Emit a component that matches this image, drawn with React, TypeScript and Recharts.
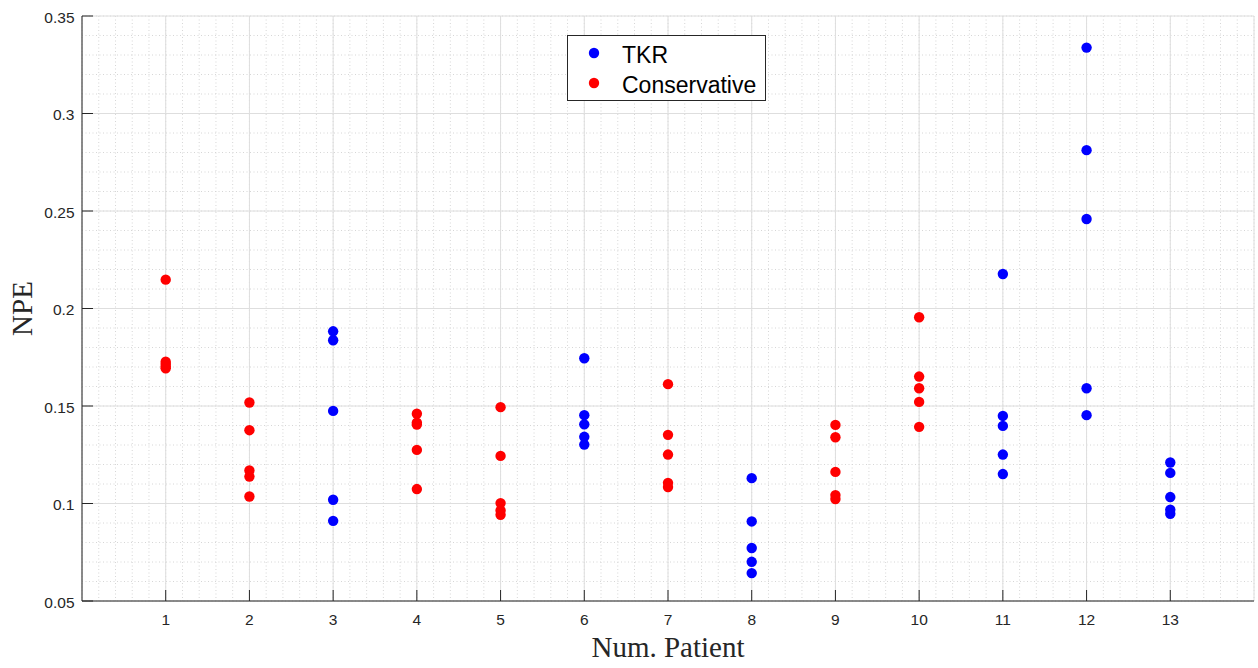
import {
  ScatterChart,
  Scatter,
  XAxis,
  YAxis,
  CartesianGrid,
  Legend,
} from "recharts";

// patients and their NPE values
const patientTicks = [1, 2, 3, 4, 5, 6, 7, 8, 9, 10, 11, 12, 13];
const npeTicks = [0.05, 0.1, 0.15, 0.2, 0.25, 0.3, 0.35];
const seriesNames = ["TKR", "Conservative"];

const tkrPatients = [3, 6, 8, 11, 12, 13];
const tkrNPE = [
  [0.1883, 0.1837, 0.1475, 0.1019, 0.0911],
  [0.1745, 0.1453, 0.1406, 0.1342, 0.1302],
  [0.113, 0.0908, 0.0772, 0.0701, 0.0643],
  [0.2177, 0.1449, 0.1398, 0.1251, 0.1151],
  [0.3338, 0.2812, 0.2459, 0.1591, 0.1453],
  [0.121, 0.1157, 0.1033, 0.0968, 0.0947],
];

const conservativePatients = [1, 2, 4, 5, 7, 9, 10];
const conservativeNPE = [
  [0.2148, 0.1727, 0.1715, 0.1703, 0.1693],
  [0.1518, 0.1376, 0.1169, 0.1138, 0.1036],
  [0.146, 0.1415, 0.1405, 0.1275, 0.1074],
  [0.1494, 0.1244, 0.1002, 0.0964, 0.0942],
  [0.1612, 0.1352, 0.1251, 0.1106, 0.1084],
  [0.1403, 0.134, 0.1162, 0.1043, 0.1023],
  [0.1955, 0.1651, 0.1591, 0.1521, 0.1393],
];

// minor grid positions (axis units)
const minorX = Array.from({ length: 71 }, (_, i) => +(i * 0.2).toFixed(1));
const minorY = Array.from({ length: 31 }, (_, i) => +(0.05 + i * 0.01).toFixed(2));

const toPoints = (patients: number[], values: number[][]) =>
  patients.flatMap((p, i) => values[i].map((v) => ({ patient: p, npe: v })));

const tkrData = toPoints(tkrPatients, tkrNPE);
const conservativeData = toPoints(conservativePatients, conservativeNPE);

const AXIS = "#262626";
const TICK_LEN = 11;
const SANS = "'Liberation Sans', Arial, sans-serif";
const SERIF = "'Liberation Serif', 'Times New Roman', serif";

const BottomTick = (props: any) => {
  const { x, y, payload } = props;
  return (
    <g>
      <line x1={x} x2={x} y1={y} y2={y - TICK_LEN} stroke={AXIS} />
      <text x={x} y={y + 24} textAnchor="middle" fontSize={15.5} fill={AXIS} fontFamily={SANS}>
        {payload.value}
      </text>
    </g>
  );
};

const TopTick = (props: any) => {
  const { x, y } = props;
  return <line x1={x} x2={x} y1={y} y2={y + TICK_LEN} stroke={AXIS} />;
};

const LeftTick = (props: any) => {
  const { x, y, payload } = props;
  return (
    <g>
      <line x1={x} x2={x + TICK_LEN} y1={y} y2={y} stroke={AXIS} />
      <text x={x - 7.5} y={y + 6.5} textAnchor="end" fontSize={15.5} fill={AXIS} fontFamily={SANS}>
        {payload.value}
      </text>
    </g>
  );
};

const RightTick = (props: any) => {
  const { x, y } = props;
  return <line x1={x} x2={x - TICK_LEN} y1={y} y2={y} stroke={AXIS} />;
};

const Dot = (props: any) => <circle cx={props.cx} cy={props.cy} r={5.2} fill={props.fill} />;

const renderLegend = (props: any) => {
  const entries = [...(props.payload || [])].sort(
    (a: any, b: any) => seriesNames.indexOf(a.value) - seriesNames.indexOf(b.value)
  );
  return (
    <svg width={199} height={66}>
      <rect x={0.5} y={0.5} width={198} height={65} fill="#fff" stroke={AXIS} />
      {entries.map((e: any, i: number) => (
        <g key={e.value}>
          <circle cx={27} cy={18 + i * 30} r={5.2} fill={e.color} />
          <text x={55} y={28 + i * 30} fontSize={23} fill="#000" fontFamily={SANS}>
            {e.value}
          </text>
        </g>
      ))}
    </svg>
  );
};

const minorVertical = ({ offset }: any) =>
  minorX.map((v) => offset.left + (v / 14) * offset.width);
const minorHorizontal = ({ offset }: any) =>
  minorY.map((v) => offset.top + ((0.35 - v) / 0.3) * offset.height);

export default function App() {
  return (
    <div style={{ position: "absolute", left: 0, top: 0, background: "#fff" }}>
      <ScatterChart width={1258} height={668} margin={{ top: 16, right: 4, bottom: 0, left: 0 }}>
        <CartesianGrid
          stroke="#d6d6d6"
          strokeDasharray="1 2.5"
          verticalCoordinatesGenerator={minorVertical}
          horizontalCoordinatesGenerator={minorHorizontal}
        />
        <CartesianGrid stroke="#dedede" />
        <XAxis
          type="number"
          dataKey="patient"
          domain={[0, 14]}
          ticks={patientTicks}
          interval={0}
          height={67}
          tickSize={0}
          tickMargin={0}
          tickLine={false}
          tick={<BottomTick />}
          stroke={AXIS}
          label={{ value: "Num. Patient", position: "insideBottom", offset: 11, fontSize: 29, fill: AXIS, fontFamily: SERIF }}
        />
        <XAxis
          xAxisId="top"
          orientation="top"
          type="number"
          dataKey="patient"
          domain={[0, 14]}
          ticks={patientTicks}
          interval={0}
          height={0}
          tickSize={0}
          tickMargin={0}
          tickLine={false}
          tick={<TopTick />}
          stroke={AXIS}
        />
        <YAxis
          type="number"
          dataKey="npe"
          domain={[0.05, 0.35]}
          ticks={npeTicks}
          interval={0}
          width={82}
          tickSize={0}
          tickMargin={0}
          tickLine={false}
          tick={<LeftTick />}
          stroke={AXIS}
          label={{
            value: "NPE",
            angle: -90,
            position: "insideLeft",
            offset: 22,
            fontSize: 29,
            fill: AXIS,
            fontFamily: SERIF,
            style: { textAnchor: "middle" },
          }}
        />
        <YAxis
          yAxisId="right"
          orientation="right"
          type="number"
          dataKey="npe"
          domain={[0.05, 0.35]}
          ticks={npeTicks}
          interval={0}
          width={0}
          tickSize={0}
          tickMargin={0}
          tickLine={false}
          tick={<RightTick />}
          stroke={AXIS}
        />
        <Legend
          layout="horizontal"
          verticalAlign="middle"
          content={renderLegend}
          wrapperStyle={{ left: 567, top: 35, width: 199, height: 66 }}
        />
        <Scatter name="TKR" data={tkrData} fill="#0000ff" shape={<Dot />} isAnimationActive={false} />
        <Scatter
          name="Conservative"
          data={conservativeData}
          fill="#ff0000"
          shape={<Dot />}
          isAnimationActive={false}
        />
      </ScatterChart>
    </div>
  );
}
